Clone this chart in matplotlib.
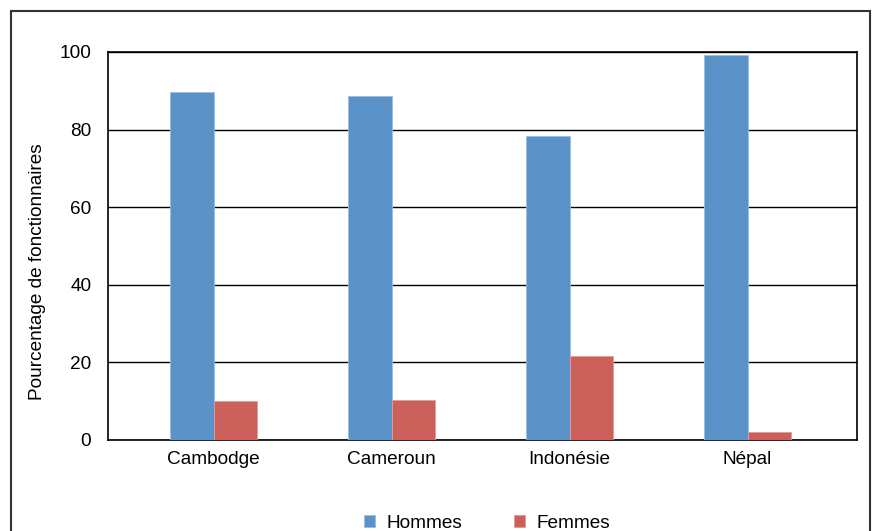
import numpy as np
import matplotlib
matplotlib.use("Agg")
import matplotlib.pyplot as plt
from matplotlib.patches import Rectangle

plt.rcParams['font.family'] = ['Liberation Sans', 'DejaVu Sans']

pays = ["Cambodge", "Cameroun", "Indonésie", "Népal"]
hommes = [89.7, 88.7, 78.4, 99.2]
femmes = [10.0, 10.4, 21.6, 2.1]
yticks = [0, 20, 40, 60, 80, 100]

fs = 13.7
fig = plt.figure(figsize=(8.72, 5.31), dpi=100)
W, H = 872, 531
ax = fig.add_axes([108 / W, 1 - 440 / H, (857 - 108) / W, (440 - 52) / H])

x = np.arange(len(pays))
w = 0.245
ax.bar(x - w / 2, hommes, w, color="#5b93c8", edgecolor="#9cbde0", linewidth=0.6, label="Hommes", zorder=3)
ax.bar(x + w / 2, femmes, w, color="#cc615b", edgecolor="#e39b96", linewidth=0.6, label="Femmes", zorder=3)

ax.set_xlim(-0.593, 3.615)
ax.set_ylim(0, 100)
ax.set_yticks(yticks)
ax.set_xticks(x)
ax.set_xticklabels(pays, fontsize=fs)
ax.tick_params(axis="y", labelsize=fs, length=0, pad=12)
ax.tick_params(axis="x", length=0, pad=8)
ax.grid(axis="y", color="black", linewidth=1, zorder=1)
for s in ax.spines.values():
    s.set_color("black")
    s.set_linewidth(1.2)

fig.text(37 / W, 1 - 272 / H, "Pourcentage de fonctionnaires", rotation=90,
         ha="center", va="center", fontsize=fs)

fig.legend(loc="center", bbox_to_anchor=(487 / W, 1 - 523 / H), ncol=2, frameon=False,
           fontsize=fs, handlelength=0.6, handleheight=0.6, columnspacing=2.7, handletextpad=0.6)

fig.patches.append(Rectangle((11 / W, -0.05), (870 - 11) / W, (1 - 11 / H) + 0.05,
                             transform=fig.transFigure, fill=False, edgecolor="#333333",
                             linewidth=1.5, clip_on=False))

fig.savefig("out.png", dpi=100)
